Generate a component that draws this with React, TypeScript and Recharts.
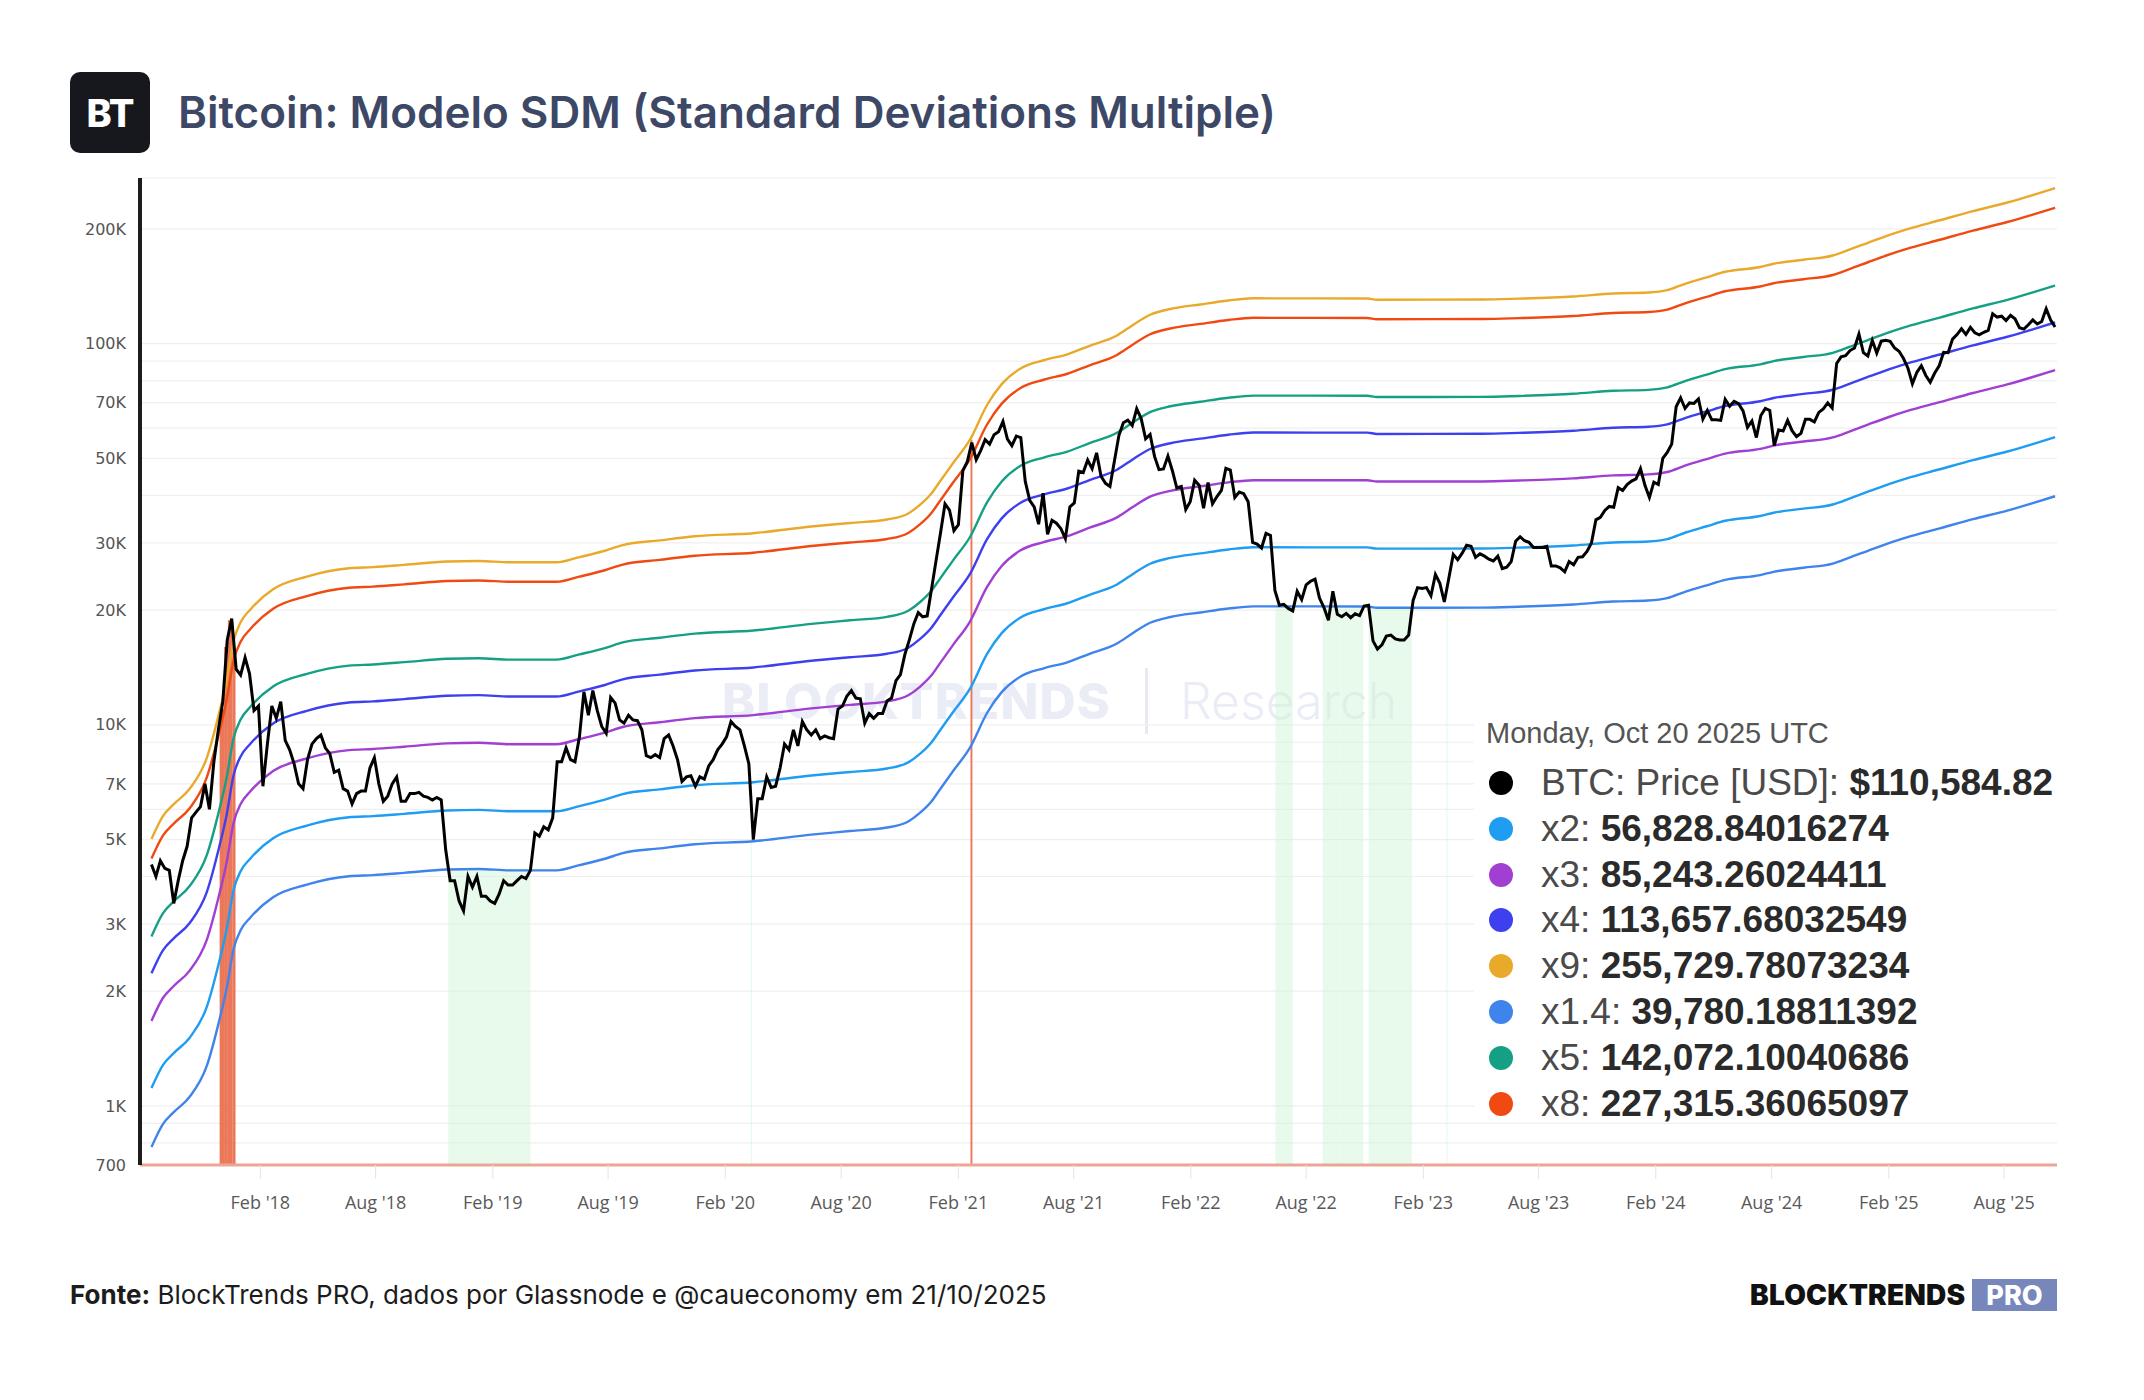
import React from 'react';
import {
  ComposedChart,
  Line,
  XAxis,
  YAxis,
  CartesianGrid,
  ReferenceArea,
} from 'recharts';

const W = 2144;
const H = 1400;
const DAY = 86400000;
const UI_FONT = 'Inter, "Noto Sans", sans-serif';
const TIP_FONT = '"Liberation Sans", Arial, sans-serif';

const ts = (d: string) => Date.parse(`${d}T00:00:00Z`);

// BTC weekly closes (Mondays), one list per calendar year: [first Monday, closes]
const price2017 = [4300, 4000, 4400, 4200, 4150, 3400, 3900, 4400, 4800, 5700, 5900, 6100, 7000, 6000, 8000, 9700, 11500, 16700, 19000, 14000];
const price2018 = [
  13500, 15000, 13600, 10900, 11200, 6900, 8900, 11200, 10400, 11500, 9100, 8600, 7900,
  7000, 6800, 8100, 8900, 9200, 9400, 8700, 8400, 7500, 7600, 6800, 6700, 6200,
  6600, 6700, 6700, 7700, 8200, 7000, 6300, 6500, 7000, 7300, 6300, 6300, 6600,
  6600, 6650, 6500, 6450, 6350, 6450, 6350, 4700, 3900, 3900, 3450, 3250, 4000, 3750,
];
const price2019 = [
  4000, 3550, 3550, 3450, 3400, 3600, 3900, 3800, 3800, 3900, 4000, 3950,
  4150, 5200, 5100, 5400, 5300, 5700, 8000, 8000, 8700, 8100, 8000, 9300, 12200,
  10600, 12300, 10900, 9900, 9500, 11800, 11400, 10300, 10100, 10600, 10300, 10250, 9700, 8300,
  8200, 8350, 8200, 9200, 9400, 8800, 8100, 7100, 7300, 7350, 6900, 7300, 7200,
];
const price2020 = [
  7800, 8100, 8600, 8900, 9300, 10200, 9900, 9700, 8800, 7900, 5000, 6400, 6400,
  7300, 6850, 6900, 7700, 8900, 8600, 9700, 8800, 10200, 9700, 9400, 9700, 9200,
  9350, 9250, 9200, 11000, 11200, 11900, 12300, 11750, 11700, 10100, 10700, 10400, 10700,
  10700, 11550, 11750, 13050, 13550, 15300, 16700, 18400, 19700, 19200, 19300, 22800, 27000,
];
const price2021 = [
  31900, 38000, 36600, 32300, 33500, 46400, 49000, 55000, 49600, 52400, 56000, 54500, 57700,
  58700, 62500, 56200, 54000, 57200, 56700, 43500, 38800, 37300, 33600, 40500, 31600, 34400,
  33800, 32700, 30800, 37300, 38200, 46300, 45900, 49500, 47000, 51700, 44900, 43000, 42200,
  49200, 57400, 62000, 63000, 61000, 67500, 63600, 56300, 57800, 50600, 46700, 46900, 50700,
];
const price2022 = [
  46400, 41800, 42200, 36700, 38500, 43800, 42500, 37000, 43200, 38000, 39700, 41200, 47100,
  46600, 39500, 40800, 40400, 38500, 30100, 29800, 29100, 31800, 31400, 22500, 20600, 20700,
  20200, 19900, 22400, 21300, 23300, 23800, 24100, 21500, 20300, 18800, 22400, 19500, 19200,
  19600, 19100, 19550, 19350, 20500, 20600, 16600, 15800, 16200, 17100, 17200, 16800, 16700,
];
const price2023 = [
  16700, 17200, 21200, 22900, 22800, 22900, 21800, 24800, 23500, 21000, 24200, 28000, 27100,
  28200, 29600, 29400, 27500, 28100, 27700, 27200, 26900, 27700, 25700, 25900, 26800, 30300,
  31150, 30400, 30100, 29200, 29200, 29200, 29400, 26100, 26100, 25800, 25200, 26800, 26300,
  27500, 27600, 28500, 30000, 34500, 35000, 36500, 37400, 37200, 41900, 41200, 42700, 43600,
];
const price2024 = [
  44200, 47000, 42500, 39500, 43300, 42700, 50000, 51800, 54500, 68300, 72100, 67600, 69900,
  69700, 71600, 63400, 66800, 63100, 63100, 62900, 71400, 68500, 70600, 69600, 66600, 60300,
  62700, 56700, 64800, 67600, 66800, 54000, 59400, 59000, 62900, 59100, 57000, 58200, 63300, 63300,
  62300, 66000, 67400, 69900, 67800, 88700, 92300, 93000, 95900, 97400, 106000, 94700, 92800,
];
const price2025 = [
  102000, 94500, 101500, 102000, 101400, 97400, 95500, 91400, 86200, 78500, 84100, 87500, 82500,
  79200, 83700, 87500, 94900, 94700, 102800, 105600, 109400, 105700, 110300, 106800, 105500, 107100,
  108300, 119800, 117400, 118000, 115000, 118700, 116200, 110100, 109200, 112100, 115400, 112600, 114300,
  123500, 115300, 110584.82,
];

const priceYears: [string, number[]][] = [
  ['2017-08-14', price2017],
  ['2018-01-01', price2018],
  ['2019-01-07', price2019],
  ['2020-01-06', price2020],
  ['2021-01-04', price2021],
  ['2022-01-03', price2022],
  ['2023-01-02', price2023],
  ['2024-01-01', price2024],
  ['2025-01-06', price2025],
];

// SDM base (1x); every band is a multiple of it
const baseSeries: [string, number][] = [
  ['2017-08-14', 557], ['2017-09-01', 640], ['2017-09-18', 688], ['2017-10-13', 755],
  ['2017-11-09', 911], ['2017-11-29', 1207], ['2017-12-10', 1450], ['2017-12-21', 1846],
  ['2018-01-01', 2065], ['2018-01-16', 2227], ['2018-02-21', 2520], ['2018-04-15', 2720],
  ['2018-06-20', 2860], ['2018-07-28', 2880], ['2018-09-15', 2920], ['2018-11-21', 2980],
  ['2019-01-10', 2990], ['2019-03-01', 2965], ['2019-05-12', 2965], ['2019-06-17', 3060],
  ['2019-07-27', 3180], ['2019-08-24', 3290], ['2019-10-21', 3385], ['2019-12-15', 3470],
  ['2020-03-16', 3535], ['2020-06-15', 3680], ['2020-08-15', 3760], ['2020-10-12', 3840],
  ['2020-11-15', 3990], ['2020-12-03', 4200], ['2020-12-20', 4480], ['2021-01-03', 4830],
  ['2021-01-24', 5410], ['2021-02-19', 6210], ['2021-03-18', 7670], ['2021-04-10', 8700],
  ['2021-05-09', 9550], ['2021-06-15', 10050], ['2021-07-22', 10420], ['2021-08-25', 10950],
  ['2021-10-08', 11670], ['2021-11-01', 12400], ['2021-11-29', 13230], ['2021-12-31', 13700],
  ['2022-02-16', 14080], ['2022-04-01', 14420], ['2022-05-10', 14610], ['2022-11-05', 14600],
  ['2022-11-20', 14490], ['2023-05-05', 14500], ['2023-07-01', 14580], ['2023-09-24', 14770],
  ['2023-11-26', 15040], ['2024-01-20', 15130], ['2024-02-19', 15350], ['2024-03-20', 16000],
  ['2024-04-21', 16590], ['2024-05-20', 17150], ['2024-07-14', 17650], ['2024-08-04', 18000],
  ['2024-09-20', 18450], ['2024-11-05', 18920], ['2024-12-01', 19600], ['2025-01-01', 20500],
  ['2025-02-01', 21400], ['2025-03-01', 22160], ['2025-04-22', 23410], ['2025-06-13', 24740],
  ['2025-08-06', 26060], ['2025-09-15', 27250],
];

const lastDate = '2025-10-20';
const bandKeys = ['x2', 'x3', 'x4', 'x9', 'x1.4', 'x5', 'x8'];
const bandMultipliers = [2, 3, 4, 9, 1.4, 5, 8];
const bandColors = ['#1e9df2', '#a13fd2', '#3e40f0', '#e9aa2b', '#3f84ec', '#15a085', '#f04a12'];
const bandLatest = [
  56828.84016274, 85243.26024411, 113657.68032549, 255729.78073234,
  39780.18811392, 142072.10040686, 227315.36065097,
];

// price above x8 (red) and below x1.4 (green): [from, to, top]
const sellSignals: [string, string, number][] = [
  ['2017-11-29', '2017-12-06', 11000],
  ['2017-12-06', '2017-12-12', 16000],
  ['2017-12-12', '2017-12-19', 18800],
  ['2017-12-19', '2017-12-24', 15500],
  ['2021-02-20', '2021-02-23', 56000],
];
const buySignals: [string, string, number][] = [
  ['2018-11-23', '2019-04-01', 4180],
  ['2020-03-12', '2020-03-14', 4940],
  ['2022-06-14', '2022-07-11', 20440],
  ['2022-08-27', '2022-09-24', 20440],
  ['2022-09-24', '2022-10-30', 20420],
  ['2022-11-07', '2023-01-14', 20290],
  ['2023-03-09', '2023-03-11', 20300],
];

const xTickDates = [
  '2018-02-01', '2018-08-01', '2019-02-01', '2019-08-01', '2020-02-01', '2020-08-01',
  '2021-02-01', '2021-08-01', '2022-02-01', '2022-08-01', '2023-02-01', '2023-08-01',
  '2024-02-01', '2024-08-01', '2025-02-01', '2025-08-01',
];
const yTicks = [
  700, 800, 900, 1000, 2000, 3000, 4000, 5000, 6000, 7000, 8000, 9000,
  10000, 20000, 30000, 40000, 50000, 60000, 70000, 80000, 90000, 100000, 200000,
];
const yLabelled = [700, 1000, 2000, 3000, 5000, 7000, 10000, 20000, 30000, 50000, 70000, 100000, 200000];

const priceData = priceYears.flatMap(([first, closes]) =>
  closes.map((price, i) => ({ t: ts(first) + i * 7 * DAY, v: price })),
);

const bandData = bandMultipliers.map((m, k) => [
  ...baseSeries.map(([d, b]) => ({ t: ts(d), v: b * m })),
  { t: ts(lastDate), v: bandLatest[k] },
]);

const fmtX = (t: number) => {
  const d = new Date(t);
  const mon = d.getUTCMonth() === 1 ? 'Feb' : 'Aug';
  return `${mon} '${String(d.getUTCFullYear()).slice(2)}`;
};
const fmtY = (v: number) => {
  if (!yLabelled.includes(v)) return '';
  return v >= 1000 ? `${v / 1000}K` : String(v);
};
const fmtNum = (v: number, digits: number) =>
  v.toLocaleString('en-US', { minimumFractionDigits: digits, maximumFractionDigits: digits });

const lastPrice = priceData[priceData.length - 1].v;

const legendRows = [
  { color: '#000', label: 'BTC: Price [USD]: ', value: `$${fmtNum(lastPrice, 2)}` },
  ...bandKeys.map((k, i) => ({ color: bandColors[i], label: `${k}: `, value: fmtNum(bandLatest[i], 8) })),
];

function SdmChart() {
  return (
    <ComposedChart width={W} height={H} margin={{ top: 178, right: 87, bottom: 175, left: 30 }}>
      <CartesianGrid vertical={false} stroke="#efefef" strokeWidth={1.2} />
      {buySignals.map(([a, b, top], i) => (
        <ReferenceArea
          key={`buy-${i}`}
          x1={ts(a)}
          x2={ts(b)}
          y1={700}
          y2={top}
          fill="#cdf3d3"
          fillOpacity={0.45}
          stroke="none"
          ifOverflow="hidden"
        />
      ))}
      <XAxis
        type="number"
        dataKey="t"
        domain={[ts('2017-07-27'), ts('2025-10-23')]}
        allowDataOverflow
        ticks={xTickDates.map(ts)}
        interval={0}
        tickFormatter={fmtX}
        height={60}
        axisLine={{ stroke: '#eca595', strokeWidth: 3 }}
        tickLine={{ stroke: '#e4e4e4' }}
        tickSize={14}
        tickMargin={17}
        tick={{ fill: '#595959', fontSize: 18, fontFamily: '"Open Sans", sans-serif' }}
      />
      <YAxis
        scale="log"
        domain={[700, 272000]}
        allowDataOverflow
        ticks={yTicks}
        interval={0}
        tickFormatter={fmtY}
        width={110}
        axisLine={{ stroke: '#1c1c1c', strokeWidth: 4 }}
        tickLine={false}
        tickMargin={8}
        tick={{ fill: '#555', fontSize: 16, fontFamily: '"DejaVu Sans", sans-serif' }}
      />
      {bandData.map((data, k) => (
        <Line
          key={bandKeys[k]}
          data={data}
          dataKey="v"
          type="monotone"
          stroke={bandColors[k]}
          strokeWidth={2.4}
          dot={false}
          isAnimationActive={false}
        />
      ))}
      {sellSignals.map(([a, b, top], i) => (
        <ReferenceArea
          key={`sell-${i}`}
          x1={ts(a)}
          x2={ts(b)}
          y1={700}
          y2={top}
          fill="#e8603c"
          fillOpacity={0.85}
          stroke="none"
          ifOverflow="hidden"
        />
      ))}
      <Line
        data={priceData}
        dataKey="v"
        type="linear"
        stroke="#000"
        strokeWidth={3}
        dot={false}
        isAnimationActive={false}
      />
    </ComposedChart>
  );
}

export default function App() {
  return (
    <div
      style={{
        position: 'absolute',
        left: 0,
        top: 0,
        width: W,
        height: H,
        background: '#fff',
        overflow: 'hidden',
        fontFamily: UI_FONT,
      }}
    >
      <div
        style={{
          position: 'absolute',
          left: 70,
          top: 72,
          width: 80,
          height: 81,
          borderRadius: 10,
          background: '#16181d',
          color: '#fff',
          display: 'flex',
          alignItems: 'center',
          justifyContent: 'center',
          fontWeight: 800,
          fontSize: 38,
          letterSpacing: -1,
        }}
      >
        BT
      </div>
      <div
        style={{
          position: 'absolute',
          left: 178,
          top: 82,
          lineHeight: '60px',
          fontSize: 44,
          fontWeight: 600,
          color: '#3d4867',
          whiteSpace: 'nowrap',
        }}
      >
        Bitcoin: Modelo SDM (Standard Deviations Multiple)
      </div>

      {/* watermark sits under the plot */}
      <div
        style={{
          position: 'absolute',
          left: 722,
          top: 672,
          lineHeight: '58px',
          fontSize: 50,
          fontWeight: 800,
          color: '#eaedf5',
          letterSpacing: 1,
          whiteSpace: 'nowrap',
        }}
      >
        BLOCKTRENDS
      </div>
      <div style={{ position: 'absolute', left: 1145, top: 668, width: 3, height: 66, background: '#e7eaf2' }} />
      <div
        style={{
          position: 'absolute',
          left: 1180,
          top: 672,
          lineHeight: '58px',
          fontSize: 50,
          fontWeight: 300,
          color: '#eaedf5',
          whiteSpace: 'nowrap',
        }}
      >
        Research
      </div>

      <div style={{ position: 'absolute', left: 0, top: 0 }}>
        <SdmChart />
      </div>

      <div
        style={{
          position: 'absolute',
          left: 1474,
          top: 708,
          width: 590,
          height: 410,
          background: '#fff',
          fontFamily: TIP_FONT,
        }}
      >
        <div
          style={{
            position: 'absolute',
            left: 12,
            top: 2,
            lineHeight: '46px',
            fontSize: 29,
            color: '#555',
            whiteSpace: 'nowrap',
          }}
        >
          Monday, Oct 20 2025 UTC
        </div>
        {legendRows.map((r, i) => (
          <div key={r.label} style={{ position: 'absolute', left: 0, top: 52 + i * 45.8, height: 46, width: 590 }}>
            <div
              style={{
                position: 'absolute',
                left: 15,
                top: 11,
                width: 24,
                height: 24,
                borderRadius: 12,
                background: r.color,
              }}
            />
            <div
              style={{
                position: 'absolute',
                left: 67,
                top: 0,
                lineHeight: '46px',
                fontSize: 37,
                whiteSpace: 'nowrap',
              }}
            >
              <span style={{ color: '#4a4a4a' }}>{r.label}</span>
              <span style={{ color: '#2a2a2a', fontWeight: 700 }}>{r.value}</span>
            </div>
          </div>
        ))}
      </div>

      <div
        style={{
          position: 'absolute',
          left: 70,
          top: 1277,
          lineHeight: '36px',
          fontSize: 26,
          color: '#1c1c1c',
          whiteSpace: 'nowrap',
        }}
      >
        <b>Fonte:</b> BlockTrends PRO, dados por Glassnode e @caueconomy em 21/10/2025
      </div>
      <div
        style={{
          position: 'absolute',
          left: 1750,
          top: 1278,
          lineHeight: '34px',
          fontSize: 28,
          fontWeight: 900,
          color: '#111',
          letterSpacing: 0.2,
          whiteSpace: 'nowrap',
        }}
      >
        BLOCKTRENDS
      </div>
      <div
        style={{
          position: 'absolute',
          left: 1972,
          top: 1279,
          width: 85,
          height: 32,
          background: '#7787bb',
          color: '#fff',
          fontWeight: 800,
          fontSize: 27,
          display: 'flex',
          alignItems: 'center',
          justifyContent: 'center',
        }}
      >
        PRO
      </div>
    </div>
  );
}
